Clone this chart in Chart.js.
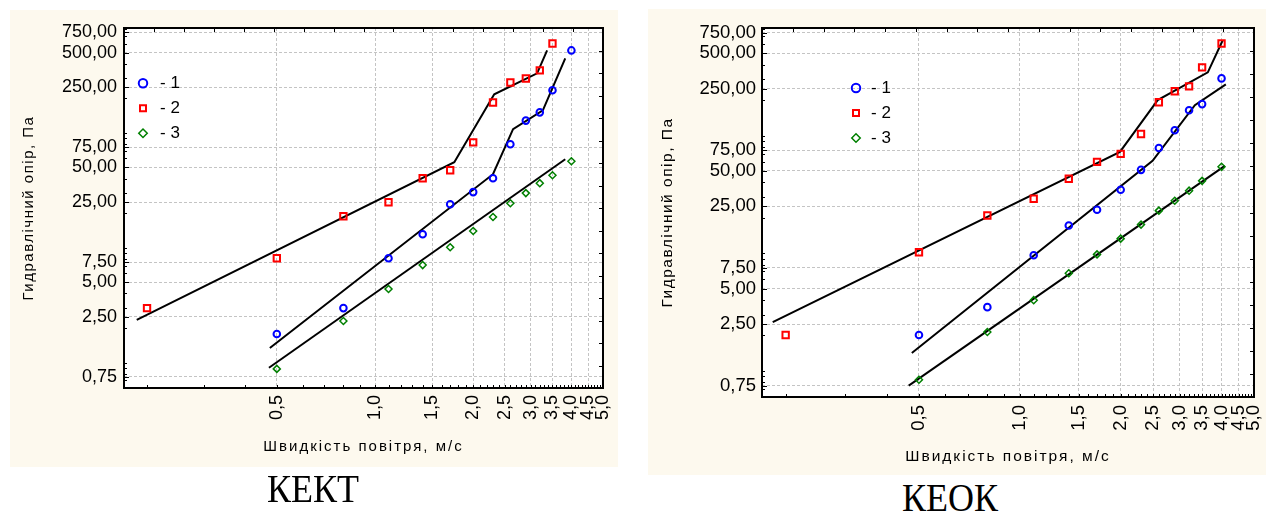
<!DOCTYPE html>
<html>
<head>
<meta charset="utf-8">
<script src="https://cdn.jsdelivr.net/npm/chart.js@4.4.1/dist/chart.umd.min.js"></script>
<style>
  html, body { margin: 0; padding: 0; }
  body { width: 1268px; height: 512px; background: #ffffff; position: relative; overflow: hidden; }
  .panel { position: absolute; background: #fdf9ee; }
  .panel canvas { display: block; }
  #p1 { left: 10px; top: 10px; width: 608px; height: 457px; }
  #p2 { left: 648px; top: 9px; width: 618px; height: 466px; }
  .cap { position: absolute; font-family: "Liberation Serif", "Times New Roman", serif; font-size: 36px;
         line-height: 36px; color: #000; white-space: nowrap; transform: scaleY(1.12); transform-origin: 0 30px; }
  #cap1 { left: 267px; top: 472px; }
  #cap2 { left: 902px; top: 481px; }
</style>
</head>
<body>
<div class="panel" id="p1"><canvas id="c1" width="608" height="457"></canvas></div>
<div class="panel" id="p2"><canvas id="c2" width="618" height="466"></canvas></div>
<div class="cap" id="cap1">КЕКТ</div>
<div class="cap" id="cap2">КЕОК</div>
<script>
// ---------- text ----------
const xTitle = 'Швидкість повітря, м/с';
const yTitle = 'Гидравлічний опір, Па';
const seriesLabels = ['- 1', '- 2', '- 3'];

// ---------- tick labels (values) ----------
const yTickValues = [0.75, 2.5, 5, 7.5, 25, 50, 75, 250, 500, 750];
const xTickValues = [0.5, 1.0, 1.5, 2.0, 2.5, 3.0, 3.5, 4.0, 4.5, 5.0];
const yMinorTicks = [0.6, 0.7, 0.8, 0.9, 1, 2, 3, 4, 5, 6, 7, 8, 9, 10, 20, 30, 40, 50, 60, 70, 80, 90,
                     100, 200, 300, 400, 500, 600, 700, 800];
const xMinorTicks = [0.2, 0.3, 0.4, 0.5, 0.6, 0.7, 0.8, 0.9];
for (let v = 10; v <= 50; v++) xMinorTicks.push(v / 10);

// ---------- KEKT data ----------
const kekt1X = [0.5, 0.8, 1.1, 1.4, 1.7, 2.0, 2.3, 2.6, 2.9, 3.2, 3.5, 4.0];
const kekt1Y = [1.77, 2.98, 8.1, 13.1, 23.9, 30.5, 40.3, 79.6, 128, 151, 235, 523];
const kekt2X = [0.2, 0.5, 0.8, 1.1, 1.4, 1.7, 2.0, 2.3, 2.6, 2.9, 3.2, 3.5];
const kekt2Y = [2.98, 8.1, 18.8, 24.9, 40.3, 47.3, 82.8, 184, 275, 298, 351, 601];
const kekt3X = [0.5, 0.8, 1.1, 1.4, 1.7, 2.0, 2.3, 2.6, 2.9, 3.2, 3.5, 4.0];
const kekt3Y = [0.88, 2.30, 4.37, 7.06, 10.1, 14.0, 18.5, 24.4, 29.9, 36.5, 42.8, 56.6];
// fitted lines KEKT
const kektFit1X = [0.476, 2.30, 2.65, 3.27, 3.83];
const kektFit1Y = [1.34, 43.7, 108, 157, 445];
const kektFit2X = [0.186, 1.75, 2.32, 3.14, 3.37];
const kektFit2Y = [2.35, 55.6, 217, 330, 523];
const kektFit3X = [0.473, 3.83];
const kektFit3Y = [0.90, 59];

// ---------- KEOK data ----------
const keok1X = [0.5, 0.8, 1.1, 1.4, 1.7, 2.0, 2.3, 2.6, 2.9, 3.2, 3.5, 4.0];
const keok1Y = [2.02, 3.48, 9.6, 17.2, 23.4, 34.6, 51.1, 78.4, 111, 164, 185, 306];
const keok2X = [0.2, 0.5, 0.8, 1.1, 1.4, 1.7, 2.0, 2.3, 2.6, 2.9, 3.2, 3.5, 4.0];
const keok2Y = [2.02, 10.2, 20.9, 29, 42.9, 59.7, 69.8, 103, 192, 238, 262, 379, 605];
const keok3X = [0.5, 0.8, 1.1, 1.4, 1.7, 2.0, 2.3, 2.6, 2.9, 3.2, 3.5, 4.0];
const keok3Y = [0.84, 2.14, 3.99, 6.75, 9.77, 13.3, 17.5, 23.0, 27.9, 34.0, 41.2, 54.2];
// fitted lines KEOK
const keokFit1X = [0.476, 2.49, 3.33, 4.12];
const keokFit1Y = [1.42, 60.9, 181, 272];
const keokFit2X = [0.183, 1.99, 2.58, 3.64, 4.03];
const keokFit2Y = [2.60, 72.6, 200, 344, 642];
const keokFit3X = [0.466, 4.09];
const keokFit3Y = [0.75, 55.2];

// ---------- helpers ----------
const FONT = '"Liberation Sans", Arial, Helvetica, sans-serif';
const pts = (xs, ys) => xs.map((x, i) => ({ x: x, y: ys[i] }));
const fmt = (v, d) => Number(v).toFixed(d).replace('.', ',');

const decorPlugin = {
  id: 'decor',
  beforeDraw(chart) {
    const { ctx, chartArea: a } = chart;
    ctx.save();
    ctx.fillStyle = '#ffffff';
    ctx.fillRect(a.left, a.top, a.right - a.left, a.bottom - a.top);
    ctx.restore();
  },
  afterLayout(chart, args, opts) {
    // position the legend inside the plot area
    const lg = chart.legend;
    if (lg) {
      lg.left = opts.legendLeft; lg.top = opts.legendTop;
      lg.right = lg.left + lg.width; lg.bottom = lg.top + lg.height;
    }
    // letter spacing of axis titles
    Object.values(chart.scales).forEach(s => {
      if (s._lsPatched) return;
      const orig = s.drawTitle;
      const sp = s.axis === 'x' ? opts.xSpacing : opts.ySpacing;
      s.drawTitle = function () {
        const c = this.ctx;
        const prev = c.letterSpacing;
        c.letterSpacing = sp;
        orig.call(this);
        c.letterSpacing = prev || '0px';
      };
      s._lsPatched = true;
    });
  },
  afterDraw(chart) {
    const { ctx, chartArea: a, scales } = chart;
    const x = scales.x, y = scales.y;
    ctx.save();
    ctx.strokeStyle = '#000';
    ctx.lineWidth = 1;
    ctx.beginPath();
    yMinorTicks.forEach(v => {
      const py = Math.round(y.getPixelForValue(v)) + 0.5;
      if (py <= a.top + 1 || py >= a.bottom - 1) return;
      ctx.moveTo(a.left, py); ctx.lineTo(a.left + 3, py);
    });
    yTickValues.forEach(v => {
      const py = Math.round(y.getPixelForValue(v)) + 0.5;
      ctx.moveTo(a.left, py); ctx.lineTo(a.left + 5, py);
    });
    xMinorTicks.forEach(v => {
      const px = Math.round(x.getPixelForValue(v)) + 0.5;
      if (px <= a.left + 1 || px >= a.right - 1) return;
      ctx.moveTo(px, a.bottom); ctx.lineTo(px, a.bottom - 3);
    });
    for (let k = 1; k < 16; k++) {
      const py = Math.round(a.top + (a.bottom - a.top) * k / 16) + 0.5;
      ctx.moveTo(a.right, py); ctx.lineTo(a.right - 4, py);
      const px = Math.round(a.left + (a.right - a.left) * k / 16) + 0.5;
      ctx.moveTo(px, a.top); ctx.lineTo(px, a.top + 4);
    }
    ctx.stroke();
    ctx.lineWidth = 2;
    ctx.strokeRect(a.left, a.top, a.right - a.left, a.bottom - a.top);
    ctx.restore();
  }
};

function makeChart(id, d, L) {
  const markerSets = [
    { label: seriesLabels[0], data: pts(d.s1x, d.s1y), pointStyle: 'circle', pointRadius: 3.3, pointBorderWidth: 2,
      pointBorderColor: '#0000ff', borderColor: '#0000ff' },
    { label: seriesLabels[1], data: pts(d.s2x, d.s2y), pointStyle: 'rect', pointRadius: 4.5, pointBorderWidth: 2,
      pointBorderColor: '#ff0000', borderColor: '#ff0000' },
    { label: seriesLabels[2], data: pts(d.s3x, d.s3y), pointStyle: 'rectRot', pointRadius: 3.5, pointBorderWidth: 1.5,
      pointBorderColor: '#008000', borderColor: '#008000' }
  ].map(s => Object.assign(s, { showLine: false, pointBackgroundColor: 'rgba(0,0,0,0)', backgroundColor: 'rgba(0,0,0,0)',
                                borderWidth: s.pointBorderWidth }));
  const fitSets = [[d.f1x, d.f1y], [d.f2x, d.f2y], [d.f3x, d.f3y]].map((f, i) => ({
    label: 'fit ' + (i + 1), data: pts(f[0], f[1]), showLine: true, borderColor: '#000000', borderWidth: 2,
    pointRadius: 0, backgroundColor: 'rgba(0,0,0,0)', fill: false, tension: 0
  }));
  return new Chart(document.getElementById(id), {
    type: 'scatter',
    data: { datasets: markerSets.concat(fitSets) },
    plugins: [decorPlugin],
    options: {
      responsive: false,
      animation: false,
      events: [],
      layout: { padding: { top: L.padTop, right: L.padRight, left: 0, bottom: 0 } },
      plugins: {
        tooltip: { enabled: false },
        legend: {
          position: 'chartArea',
          align: 'start',
          labels: {
            usePointStyle: true, boxWidth: L.boxWidth, boxHeight: 6, padding: 8, color: '#000',
            font: { family: FONT, size: 17 },
            filter: item => item.datasetIndex < 3
          }
        },
        decor: { legendLeft: L.legendLeft, legendTop: L.legendTop, xSpacing: L.xSpacing, ySpacing: L.ySpacing }
      },
      scales: {
        x: {
          type: 'logarithmic', position: 'bottom', min: 0.17, max: 5.0,
          afterBuildTicks: s => { s.ticks = xTickValues.map(v => ({ value: v })); },
          afterFit: s => { s.height = L.xHeight; s.paddingLeft = 0; s.paddingRight = 0; s.paddingTop = 0; s.paddingBottom = 0; },
          ticks: { autoSkip: false, minRotation: 90, maxRotation: 90, padding: L.xTickPad, color: '#000',
                   font: { family: FONT, size: L.tickSize }, callback: v => fmt(v, 1) },
          grid: { color: '#c4c4c4', lineWidth: 1, drawTicks: false },
          border: { display: false, dash: [3, 2] },
          title: { display: true, text: xTitle, color: '#000', font: { family: FONT, size: L.titleSize },
                   padding: { top: 0, bottom: L.xTitlePad } }
        },
        y: {
          type: 'logarithmic', position: 'left', min: 0.6, max: 820,
          afterBuildTicks: s => { s.ticks = yTickValues.map(v => ({ value: v })); },
          afterFit: s => { s.width = L.yWidth; s.paddingLeft = 0; s.paddingRight = 0; s.paddingTop = 0; s.paddingBottom = 0; },
          ticks: { autoSkip: false, padding: L.yTickPad, color: '#000',
                   font: { family: FONT, size: L.tickSize }, callback: v => fmt(v, 2) },
          grid: { color: '#c4c4c4', lineWidth: 1, drawTicks: false },
          border: { display: false, dash: [3, 2] },
          title: { display: true, text: yTitle, color: '#000', font: { family: FONT, size: L.titleSize },
                   padding: { top: 10, bottom: 0 } }
        }
      }
    }
  });
}

makeChart('c1', {
  s1x: kekt1X, s1y: kekt1Y, s2x: kekt2X, s2y: kekt2Y, s3x: kekt3X, s3y: kekt3Y,
  f1x: kektFit1X, f1y: kektFit1Y, f2x: kektFit2X, f2y: kektFit2Y, f3x: kektFit3X, f3y: kektFit3Y
}, { padTop: 18, padRight: 15, yWidth: 114, xHeight: 79, tickSize: 18, titleSize: 15, xTitlePad: 11,
     xTickPad: 7, yTickPad: 7, boxWidth: 17, legendLeft: 116.5, legendTop: 56.8, xSpacing: '2px', ySpacing: '1.5px' });

makeChart('c2', {
  s1x: keok1X, s1y: keok1Y, s2x: keok2X, s2y: keok2Y, s3x: keok3X, s3y: keok3Y,
  f1x: keokFit1X, f1y: keokFit1Y, f2x: keokFit2X, f2y: keokFit2Y, f3x: keokFit3X, f3y: keokFit3Y
}, { padTop: 19, padRight: 12, yWidth: 114, xHeight: 78, tickSize: 18.5, titleSize: 15.5, xTitlePad: 9,
     xTickPad: 8, yTickPad: 6, boxWidth: 13, legendLeft: 193.5, legendTop: 62.5, xSpacing: '2px', ySpacing: '1.5px' });
</script>
</body>
</html>
